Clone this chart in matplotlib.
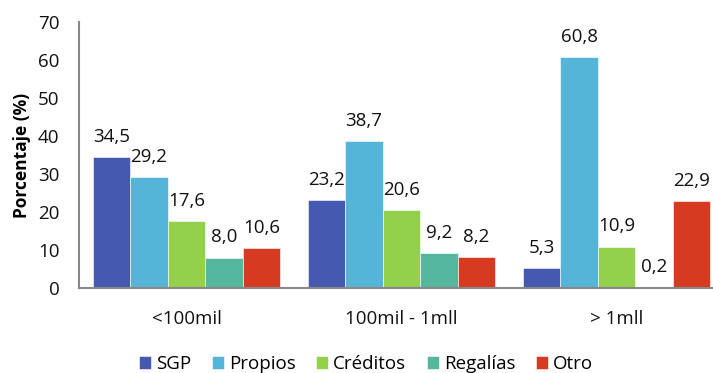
import numpy as np
import matplotlib.pyplot as plt

plt.rcParams['font.family'] = ['Open Sans', 'DejaVu Sans']

# Rangos de población y fuentes de financiación
categorias = ['<100mil', '100mil - 1mll', '> 1mll']
series = ['SGP', 'Propios', 'Créditos', 'Regalías', 'Otro']
sgp = [34.5, 23.2, 5.3]
propios = [29.2, 38.7, 60.8]
creditos = [17.6, 20.6, 10.9]
regalias = [8.0, 9.2, 0.2]
otro = [10.6, 8.2, 22.9]
colores = ['#4659B0', '#54B5D9', '#93D04C', '#55B89E', '#D63B21']

valores = [sgp, propios, creditos, regalias, otro]

fig = plt.figure(figsize=(7.13, 3.73), dpi=100)
ax = fig.add_axes([79 / 713, 85 / 373, 645 / 713, 266 / 373])

x = np.arange(len(categorias))
ancho = 0.1744
for i, (nombre, vals, color) in enumerate(zip(series, valores, colores)):
    pos = x + (i - 2) * ancho
    barras = ax.bar(pos, vals, ancho, color=color, edgecolor='white',
                    linewidth=0.4, label=nombre)
    for b, v in zip(barras, vals):
        ax.annotate(f'{v:.1f}'.replace('.', ','),
                    (b.get_x() + b.get_width() / 2, v),
                    xytext=(0, 8), textcoords='offset points',
                    ha='center', va='bottom', fontsize=13.5, color='#111111')

ax.set_xlim(-0.5, 2.5)
ax.set_ylim(0, 70)
ax.set_yticks(range(0, 71, 10))
ax.set_xticks(x)
ax.set_xticklabels(categorias)
ax.tick_params(axis='both', length=0, labelsize=13.5, colors='#111111')
ax.tick_params(axis='x', pad=16)
ax.tick_params(axis='y', pad=14)
ax.set_ylabel('Porcentaje (%)', fontsize=12.5, fontweight='bold', labelpad=5)

for lado in ['top', 'right']:
    ax.spines[lado].set_visible(False)
for lado in ['left', 'bottom']:
    ax.spines[lado].set_color('#888888')
    ax.spines[lado].set_linewidth(1.5)

fig.legend(loc='center', bbox_to_anchor=(366 / 713, 1 - 364 / 373), ncol=5,
           frameon=False, fontsize=13.5, handlelength=0.65, handleheight=0.65,
           handletextpad=0.25, columnspacing=1.1)

fig.savefig('out.png', dpi=100)
